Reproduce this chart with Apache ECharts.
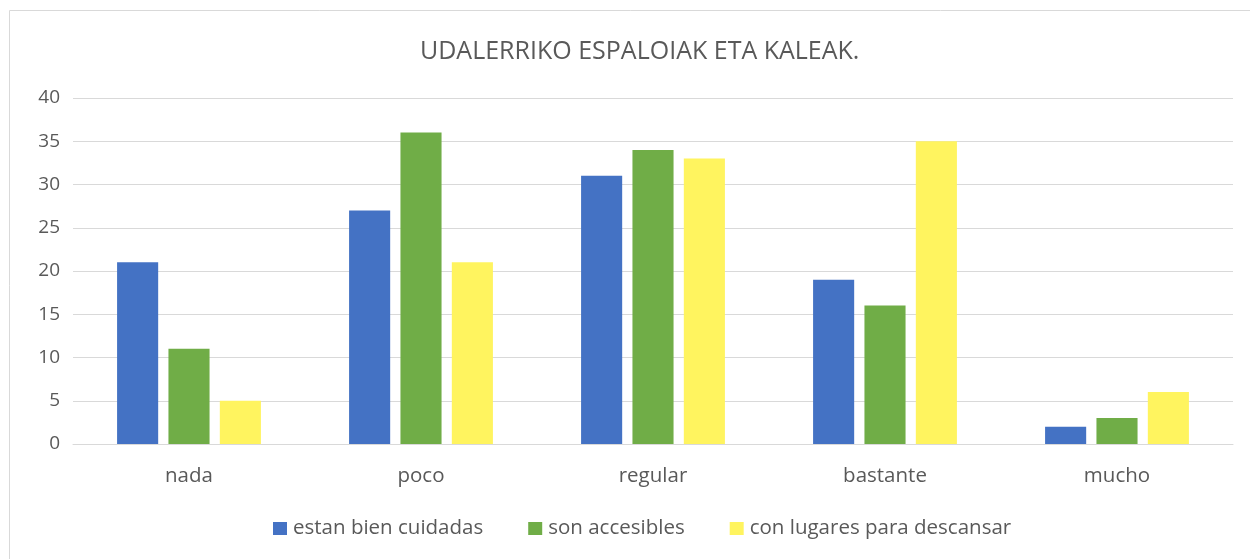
<!DOCTYPE html>
<html>
<head>
<meta charset="utf-8">
<script src="https://cdn.jsdelivr.net/npm/echarts@6/dist/echarts.min.js"></script>
<style>
  html, body { margin: 0; padding: 0; background: #fff; }
  #chart { width: 1250px; height: 559px; }
</style>
</head>
<body>
<div id="chart"></div>
<script>
// categories and series values
var categories = ['nada', 'poco', 'regular', 'bastante', 'mucho'];
var bienCuidadas = [21, 27, 31, 19, 2];
var accesibles = [11, 36, 34, 16, 3];
var descansar = [5, 21, 33, 35, 6];
var seriesNames = ['estan bien cuidadas', 'son accesibles', 'con lugares para descansar'];

var font = '"Open Sans", sans-serif';
var textColor = '#595959';

var chart = echarts.init(document.getElementById('chart'));

var option = {
    animation: false,
    color: ['#4472C4', '#70AD47', '#FFF45F'],
    textStyle: { fontFamily: font },
    graphic: [{
        // outer chart frame (runs past the right/bottom edge)
        type: 'rect',
        shape: { x: 9.5, y: 10.5, width: 1300, height: 600 },
        style: { fill: 'none', stroke: '#d9d9d9', lineWidth: 1 },
        silent: true
    }],
    title: {
        text: 'UDALERRIKO ESPALOIAK ETA KALEAK.',
        left: 415,
        top: 34,
        textStyle: { color: textColor, fontSize: 25, fontWeight: 'normal', fontFamily: font }
    },
    legend: {
        data: seriesNames,
        bottom: 15,
        left: 268,
        itemWidth: 14,
        itemHeight: 13,
        itemGap: 45,
        icon: 'rect',
        textStyle: { color: textColor, fontSize: 20.5, fontFamily: font, padding: [0, 0, 0, 1] }
    },
    grid: { left: 73, right: 17, top: 98, bottom: 115, containLabel: false },
    xAxis: {
        type: 'category',
        data: categories,
        axisLine: { lineStyle: { color: '#d9d9d9', width: 1 } },
        axisTick: { show: false },
        axisLabel: { color: textColor, fontSize: 20.5, margin: 22, fontFamily: font }
    },
    yAxis: {
        type: 'value',
        min: 0,
        max: 40,
        interval: 5,
        axisLine: { show: false },
        axisTick: { show: false },
        axisLabel: { color: textColor, fontSize: 19, margin: 13, fontFamily: font },
        splitLine: { lineStyle: { color: '#d9d9d9', width: 1 } }
    },
    series: [
        { name: seriesNames[0], type: 'bar', data: bienCuidadas, barGap: '25%', barCategoryGap: '38%' },
        { name: seriesNames[1], type: 'bar', data: accesibles, barGap: '25%', barCategoryGap: '38%' },
        { name: seriesNames[2], type: 'bar', data: descansar, barGap: '25%', barCategoryGap: '38%' }
    ]
};

chart.setOption(option);
</script>
</body>
</html>
